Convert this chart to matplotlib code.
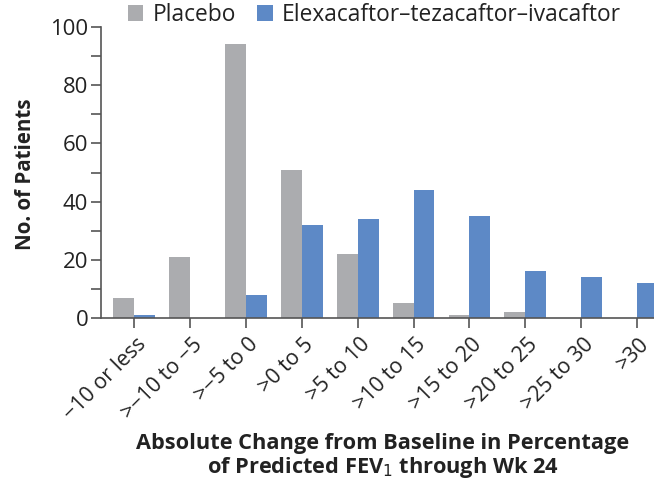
import matplotlib
matplotlib.use("Agg")
import matplotlib.pyplot as plt
from matplotlib.patches import Patch
from matplotlib.ticker import MultipleLocator
from matplotlib.transforms import ScaledTranslation
import numpy as np

categories = ["\u221210 or less", ">\u221210 to \u22125", ">\u22125 to 0", ">0 to 5",
              ">5 to 10", ">10 to 15", ">15 to 20", ">20 to 25", ">25 to 30", ">30"]
placebo = [7, 21, 94, 51, 22, 5, 1, 2, 0, 0]
eti = [1, 0, 8, 32, 34, 44, 35, 16, 14, 12]
series_names = ["Placebo", "Elexacaftor\u2013tezacaftor\u2013ivacaftor"]

GRAY = "#ABACAF"
BLUE = "#5D89C6"
TXT = "#222222"
AX = "#555555"

plt.rcParams['font.family'] = ['Open Sans', 'DejaVu Sans']
plt.rcParams['text.color'] = TXT

fig = plt.figure(figsize=(6.54, 4.92), dpi=100)
ax = fig.add_axes([101/654, (492-318)/492, 1 - 101/654, (318-27)/492])

x = np.arange(len(categories))
w = 0.374
ax.bar(x - w/2, placebo, width=w, color=GRAY, label=series_names[0])
ax.bar(x + w/2, eti, width=w, color=BLUE, label=series_names[1])

ax.set_xlim(-0.589, 9.30)
ax.set_ylim(0, 100)
ax.yaxis.set_major_locator(MultipleLocator(20))
ax.yaxis.set_minor_locator(MultipleLocator(10))
ax.set_xticks(x)
for s in ['top', 'right']:
    ax.spines[s].set_visible(False)
for s in ['left', 'bottom']:
    ax.spines[s].set_color(AX)
    ax.spines[s].set_linewidth(1.2)
ax.tick_params(axis='both', which='both', direction='out', length=7.2, width=1.2,
               color=AX, labelcolor=TXT)
ax.tick_params(axis='y', labelsize=15.9, pad=2)
ax.tick_params(axis='x', pad=9)
ax.set_xticklabels(categories, rotation=45, ha='right', va='center',
                   rotation_mode='anchor', fontsize=15.4, color=TXT)
off = ScaledTranslation(9/100, -1/100, fig.dpi_scale_trans)
for lab in ax.xaxis.get_majorticklabels():
    lab.set_transform(lab.get_transform() + off)

fig.text(26/654, 1 - 174/492, "No. of Patients", rotation=90, ha='center', va='center',
         fontsize=14.8, fontweight='bold')
fig.text(383/654, 1 - 443/492, "Absolute Change from Baseline in Percentage",
         ha='center', va='center', fontsize=15.7, fontweight='bold')
fig.text(383/654, 1 - 468/492, "of Predicted FEV$_1$ through Wk 24",
         ha='center', va='center', fontsize=15.7, fontweight='bold')

handles = [Patch(facecolor=GRAY, edgecolor='none'), Patch(facecolor=BLUE, edgecolor='none')]
fig.legend(handles, series_names, loc='center left', bbox_to_anchor=(128/654, 1 - 15/492),
           ncol=2, frameon=False, fontsize=16.4, handlelength=0.67, handleheight=0.67,
           handletextpad=0.4, columnspacing=0.95, borderaxespad=0, borderpad=0)

fig.savefig("out.png", dpi=100)
